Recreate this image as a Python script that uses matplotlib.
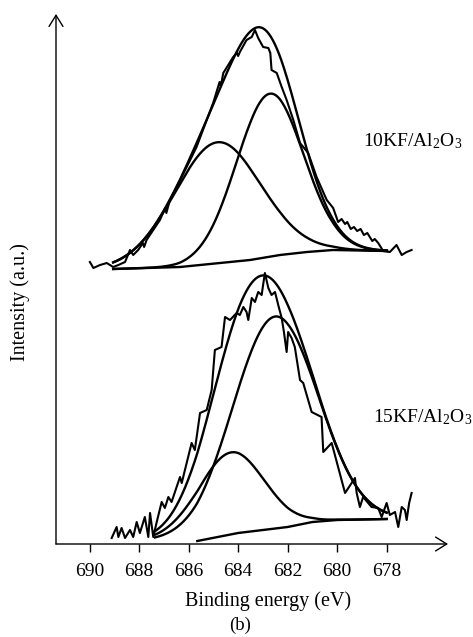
import matplotlib.pyplot as plt
import numpy as np

plt.rcParams["font.family"] = "Liberation Serif"
plt.rcParams["mathtext.fontset"] = "custom"
plt.rcParams["mathtext.rm"] = "Liberation Serif"
plt.rcParams["mathtext.it"] = "Liberation Serif:italic"

# F 1s spectrum, 10KF/Al2O3 (binding energy in eV, intensity in a.u.)
energy_10kf = [689.99, 689.85, 689.58, 689.31, 689.05, 688.84, 688.57, 688.37, 688.24, 688.04,
               687.85, 687.80, 687.70, 687.43, 687.16, 686.95, 686.90, 686.76, 686.48, 686.08,
               685.68, 685.27, 685.01, 684.75, 684.70, 684.60, 684.20, 684.05, 684.00, 683.93,
               683.66, 683.45, 683.32, 683.19, 682.99, 682.78, 682.70, 682.65, 682.44, 682.24,
               682.04, 681.77, 681.50, 681.17, 680.83, 680.42, 680.16, 679.96, 679.82, 679.68,
               679.59, 679.45, 679.32, 679.19, 679.05, 678.92, 678.78, 678.58, 678.48, 678.34,
               678.14, 677.87, 677.60, 677.39, 677.19, 676.99]
counts_10kf = [282, 276, 279, 281, 277, 279, 282, 294, 289, 294,
               301, 297, 304, 314, 324, 336, 331, 344, 357, 377,
               397, 424, 441, 462, 458, 471, 487, 491, 488, 492,
               504, 507, 514, 506, 497, 496, 491, 474, 471, 457,
               444, 424, 401, 391, 367, 344, 336, 322, 325, 320,
               322, 315, 317, 313, 315, 309, 311, 303, 305, 301,
               293, 292, 299, 289, 292, 294]
bg_energy_10kf = [689.05, 686.35, 683.52, 682.31, 681.22, 680.17, 677.99]
bg_counts_10kf = [275, 277, 284, 289, 292, 294, 293]
peak_centers_10kf = [684.83, 682.72]
peak_heights_10kf = [121, 163]
peak_sigmas_10kf = [1.75, 1.35]
fit_range_10kf = (689.05, 677.99)

# F 1s spectrum, 15KF/Al2O3
energy_15kf = [689.11, 688.91, 688.84, 688.71, 688.57, 688.37, 688.24, 688.10, 687.97, 687.77,
               687.63, 687.56, 687.43, 687.29, 687.09, 686.96, 686.82, 686.69, 686.35, 686.28,
               686.02, 685.88, 685.75, 685.54, 685.27, 685.07, 684.94, 684.67, 684.53, 684.33,
               684.06, 683.93, 683.79, 683.66, 683.59, 683.45, 683.32, 683.19, 683.05, 682.92,
               682.78, 682.65, 682.51, 682.38, 682.24, 682.15, 682.04, 681.98, 681.84, 681.71,
               681.50, 681.37, 681.03, 680.63, 680.56, 680.22, 679.68, 679.28, 679.21, 679.08,
               678.95, 678.61, 678.34, 678.20, 678.00, 677.87, 677.66, 677.53, 677.39, 677.26,
               677.19, 677.09, 676.99]
counts_15kf = [6, 17, 7, 16, 6, 14, 7, 22, 11, 27,
               7, 31, 7, 22, 42, 36, 47, 42, 67, 61,
               87, 101, 94, 131, 134, 154, 194, 197, 227, 224,
               231, 229, 237, 232, 224, 246, 242, 252, 249, 271,
               256, 249, 252, 239, 226, 212, 192, 212, 206, 197,
               164, 161, 132, 127, 92, 101, 51, 66, 51, 37,
               47, 37, 36, 27, 41, 29, 32, 17, 37, 34,
               24, 41, 51]
bg_energy_15kf = [685.65, 684.0, 682.0, 681.0, 680.0, 678.0]
bg_counts_15kf = [3, 11, 17, 22, 24, 25]
peak_centers_15kf = [682.5, 684.3]
peak_heights_15kf = [212, 82]
peak_sigmas_15kf = [1.7, 1.35]
fit_range_15kf = (687.36, 678.0)

xticks = [690, 688, 686, 684, 682, 680, 678]


def gaussian(x, center, height, sigma):
    return height * np.exp(-(x - center) ** 2 / (2 * sigma ** 2))


def draw_spectrum(ax, energy, counts, bg_energy, bg_counts, centers, heights, sigmas, fit_range):
    ax.plot(energy, counts, color="black", lw=1.5)

    x = np.linspace(fit_range[0], fit_range[1], 400)
    # np.interp wants increasing abscissa
    bg = np.interp(x, bg_energy[::-1], bg_counts[::-1])
    comps = [gaussian(x, c, h, s) for c, h, s in zip(centers, heights, sigmas)]
    for comp in comps:
        ax.plot(x, bg + comp, color="black", lw=1.7)
    ax.plot(x, bg + np.sum(comps, axis=0), color="black", lw=1.7)
    ax.plot(bg_energy, bg_counts, color="black", lw=1.7)


fig = plt.figure(figsize=(4.73, 6.37), dpi=100)
ax = fig.add_axes([56 / 473, 93 / 637, 392 / 473, 530 / 637])

draw_spectrum(ax, energy_10kf, counts_10kf, bg_energy_10kf, bg_counts_10kf,
              peak_centers_10kf, peak_heights_10kf, peak_sigmas_10kf, fit_range_10kf)
draw_spectrum(ax, energy_15kf, counts_15kf, bg_energy_15kf, bg_counts_15kf,
              peak_centers_15kf, peak_heights_15kf, peak_sigmas_15kf, fit_range_15kf)

ax.set_xlim(691.36, 675.52)
ax.set_ylim(0, 530)
ax.set_xticks(xticks)
ax.set_yticks([])
ax.tick_params(axis="x", direction="out", length=5.8, width=1.0, pad=8, labelsize=14)
for spine in ax.spines.values():
    spine.set_visible(False)

# axes drawn as arrows
arrow = dict(arrowstyle="->,head_length=0.8,head_width=0.5", lw=1.0, color="black",
             shrinkA=0, shrinkB=0)
ax.annotate("", xy=(0, 1), xytext=(0, 0), xycoords="axes fraction", arrowprops=arrow)
ax.annotate("", xy=(1, 0), xytext=(0, 0), xycoords="axes fraction", arrowprops=arrow)

ax.text(678.97, 403, "10KF/Al$_2$O$_3$", fontsize=14, ha="left", va="center", clip_on=False)
ax.text(678.57, 127, "15KF/Al$_2$O$_3$", fontsize=14, ha="left", va="center", clip_on=False)

fig.text(0.5666, 0.0487, "Binding energy (eV)", ha="center", va="baseline", fontsize=14.5)
fig.text(0.507, 0.011, "(b)", ha="center", va="baseline", fontsize=13.5)
fig.text(0.0423, 0.526, "Intensity (a.u.)", rotation=90, ha="center", va="center", fontsize=14.5)

fig.savefig("out.png", dpi=100)
plt.close(fig)
